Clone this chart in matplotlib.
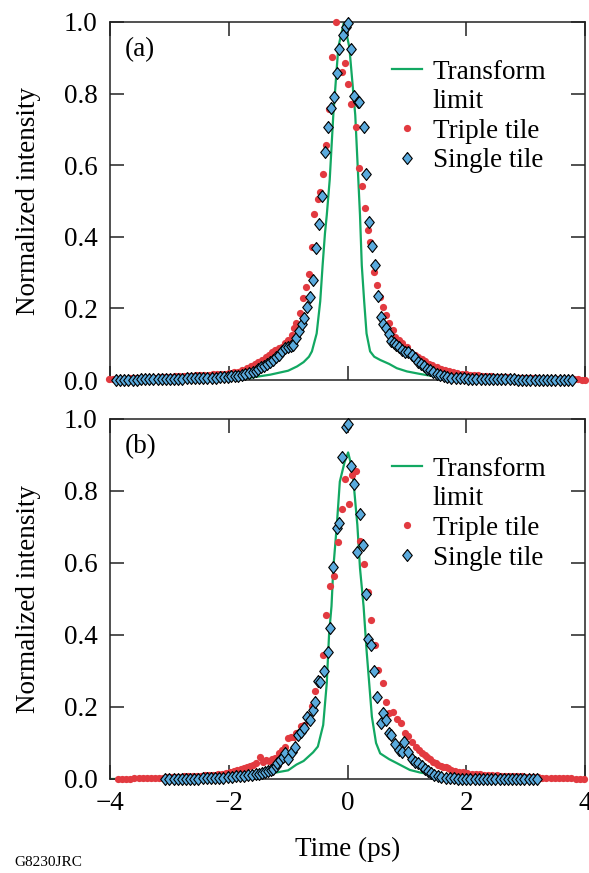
"""Pulse intensity profiles: transform limit vs triple/single tile compression."""

import matplotlib

matplotlib.use("Agg")
import matplotlib.pyplot as plt
from matplotlib.lines import Line2D

# ---- panel (a) ----
a_limit_t = [-4.0, -2.0, -1.65, -1.3, -1.0, -0.85, -0.74, -0.65, -0.6, -0.52, -0.46,
             -0.42, -0.38, -0.35, -0.3, -0.24, -0.155, -0.06, 0.03, 0.13, 0.21, 0.24,
             0.28, 0.32, 0.38, 0.45, 0.55, 0.7, 0.83, 1.0, 1.22, 1.5, 1.8, 2.2, 4.0]
a_limit_v = [0.0, 0.0, 0.006, 0.015, 0.026, 0.038, 0.05, 0.065, 0.08, 0.13, 0.22,
             0.32, 0.41, 0.46, 0.56, 0.74, 0.93, 1.0, 0.93, 0.74, 0.46, 0.32,
             0.22, 0.13, 0.08, 0.065, 0.056, 0.045, 0.033, 0.024, 0.017, 0.009, 0.004, 0.0, 0.0]

a_triple_t = [-4.02, -3.95, -3.88, -3.81, -3.74, -3.67, -3.60, -3.53, -3.46, -3.39, -3.32,
              -3.25, -3.18, -3.11, -3.04, -2.97, -2.90, -2.83, -2.76, -2.69, -2.62, -2.55,
              -2.48, -2.41, -2.34, -2.27, -2.20, -2.13, -2.06, -1.99, -1.92, -1.85, -1.78,
              -1.70, -1.63, -1.56, -1.50, -1.44, -1.38, -1.33, -1.28, -1.22, -1.16, -1.11,
              -1.05, -1.00, -0.94, -0.90, -0.86, -0.80, -0.75, -0.70, -0.65, -0.60, -0.56,
              -0.50, -0.46, -0.41, -0.36, -0.31, -0.26, -0.20, -0.10, -0.05, 0.00, 0.05,
              0.15, 0.20, 0.25, 0.29, 0.35, 0.38, 0.45, 0.49, 0.55, 0.60, 0.65, 0.70, 0.76,
              0.80, 0.86, 0.91, 1.00, 1.05, 1.14, 1.19, 1.25, 1.31, 1.37, 1.43, 1.50, 1.57,
              1.64, 1.71, 1.78, 1.85, 1.92, 1.99, 2.06, 2.13, 2.20, 2.27, 2.34, 2.41, 2.48,
              2.55, 2.62, 2.69, 2.76, 2.83, 2.90, 2.97, 3.04, 3.11, 3.18, 3.25, 3.32, 3.39,
              3.46, 3.53, 3.60, 3.67, 3.74, 3.81, 3.88, 3.95, 4.00]
a_triple_v = [0.003, 0.003, 0.004, 0.004, 0.004, 0.005, 0.005, 0.005, 0.006, 0.006, 0.007,
              0.007, 0.008, 0.008, 0.009, 0.009, 0.010, 0.010, 0.011, 0.012, 0.012, 0.013,
              0.014, 0.014, 0.015, 0.016, 0.017, 0.018, 0.018, 0.019, 0.021, 0.023, 0.027,
              0.033, 0.038, 0.044, 0.049, 0.055, 0.063, 0.070, 0.079, 0.084, 0.089, 0.093,
              0.103, 0.112, 0.126, 0.144, 0.160, 0.186, 0.230, 0.261, 0.296, 0.372, 0.464,
              0.505, 0.526, 0.575, 0.656, 0.756, 0.901, 0.999, 0.859, 0.885, 0.828, 0.770,
              0.708, 0.591, 0.543, 0.480, 0.419, 0.386, 0.303, 0.265, 0.232, 0.205, 0.182,
              0.158, 0.140, 0.121, 0.112, 0.103, 0.093, 0.079, 0.070, 0.065, 0.058, 0.052,
              0.046, 0.041, 0.036, 0.031, 0.027, 0.024, 0.021, 0.019, 0.017, 0.016, 0.015,
              0.014, 0.013, 0.012, 0.011, 0.010, 0.009, 0.009, 0.008, 0.008, 0.007, 0.007,
              0.006, 0.006, 0.005, 0.005, 0.005, 0.004, 0.004, 0.004, 0.003, 0.003, 0.003,
              0.003, 0.002, 0.002, 0.002, 0.001, 0.001]

a_single_t = [-3.90, -3.83, -3.76, -3.69, -3.62, -3.55, -3.48, -3.41, -3.34, -3.27, -3.20,
              -3.13, -3.06, -2.99, -2.92, -2.85, -2.78, -2.71, -2.64, -2.57, -2.50, -2.43,
              -2.36, -2.29, -2.22, -2.15, -2.08, -2.02, -1.96, -1.90, -1.84, -1.78, -1.72,
              -1.66, -1.60, -1.55, -1.50, -1.45, -1.40, -1.35, -1.30, -1.25, -1.20, -1.15,
              -1.10, -1.05, -1.00, -0.96, -0.92, -0.87, -0.82, -0.77, -0.73, -0.68, -0.63,
              -0.58, -0.53, -0.48, -0.43, -0.38, -0.33, -0.28, -0.23, -0.18, -0.14, -0.08,
              -0.03, 0.01, 0.06, 0.11, 0.17, 0.20, 0.27, 0.31, 0.36, 0.41, 0.46, 0.51, 0.56,
              0.60, 0.65, 0.69, 0.74, 0.78, 0.82, 0.86, 0.91, 0.97, 1.02, 1.08, 1.14, 1.19,
              1.24, 1.29, 1.34, 1.39, 1.44, 1.50, 1.56, 1.62, 1.68, 1.75, 1.82, 1.89, 1.96,
              2.03, 2.10, 2.17, 2.24, 2.31, 2.38, 2.45, 2.52, 2.59, 2.66, 2.73, 2.80, 2.87,
              2.94, 3.01, 3.08, 3.15, 3.22, 3.29, 3.36, 3.43, 3.50, 3.57, 3.64, 3.71, 3.78]
a_single_v = [0.000, 0.000, 0.001, 0.001, 0.001, 0.001, 0.002, 0.002, 0.002, 0.002, 0.003,
              0.003, 0.003, 0.003, 0.004, 0.004, 0.004, 0.005, 0.005, 0.005, 0.006, 0.006,
              0.006, 0.007, 0.007, 0.008, 0.008, 0.009, 0.010, 0.011, 0.012, 0.014, 0.016,
              0.019, 0.022, 0.026, 0.030, 0.035, 0.039, 0.044, 0.049, 0.056, 0.063, 0.070,
              0.080, 0.089, 0.093, 0.096, 0.098, 0.116, 0.138, 0.156, 0.172, 0.203, 0.231,
              0.279, 0.368, 0.436, 0.514, 0.636, 0.708, 0.761, 0.791, 0.857, 0.924, 0.964,
              0.987, 0.996, 0.924, 0.793, 0.776, 0.776, 0.706, 0.576, 0.442, 0.375, 0.321,
              0.235, 0.177, 0.156, 0.146, 0.128, 0.110, 0.102, 0.097, 0.093, 0.084, 0.079,
              0.079, 0.070, 0.061, 0.051, 0.044, 0.038, 0.032, 0.027, 0.022, 0.018, 0.014,
              0.011, 0.009, 0.007, 0.006, 0.005, 0.005, 0.004, 0.004, 0.004, 0.003, 0.003,
              0.003, 0.003, 0.002, 0.002, 0.002, 0.002, 0.002, 0.001, 0.001, 0.001, 0.001,
              0.001, 0.001, 0.000, 0.000, 0.000, 0.000, 0.000, 0.000, 0.000, 0.000]

# ---- panel (b) ----
b_limit_t = [-4.0, -2.0, -1.6, -1.2, -1.0, -0.86, -0.74, -0.58, -0.5, -0.41, -0.35, -0.31,
             -0.27, -0.24, -0.18, -0.13, -0.05, 0.01, 0.05, 0.10, 0.165, 0.21, 0.27, 0.32,
             0.41, 0.48, 0.55, 0.7, 0.83, 1.05, 1.22, 1.5, 1.8, 2.2, 4.0]
b_limit_v = [0.0, 0.0, 0.004, 0.018, 0.024, 0.04, 0.05, 0.074, 0.09, 0.15, 0.266, 0.405,
             0.48, 0.585, 0.706, 0.826, 0.88, 0.907, 0.88, 0.826, 0.706, 0.585, 0.48, 0.358,
             0.173, 0.1, 0.071, 0.055, 0.044, 0.025, 0.018, 0.01, 0.004, 0.0, 0.0]

b_triple_t = [-3.87, -3.80, -3.73, -3.66, -3.59, -3.52, -3.45, -3.38, -3.31, -3.24, -3.17,
              -3.10, -3.03, -2.96, -2.89, -2.82, -2.75, -2.68, -2.61, -2.54, -2.47, -2.40,
              -2.33, -2.26, -2.19, -2.12, -2.05, -1.98, -1.92, -1.86, -1.80, -1.75, -1.69,
              -1.64, -1.59, -1.54, -1.48, -1.43, -1.37, -1.32, -1.28, -1.22, -1.16, -1.10,
              -1.05, -1.00, -0.96, -0.90, -0.86, -0.79, -0.74, -0.66, -0.60, -0.55, -0.42,
              -0.36, -0.29, -0.23, -0.16, -0.10, -0.04, 0.03, 0.08, 0.15, 0.21, 0.28, 0.34,
              0.40, 0.46, 0.52, 0.59, 0.65, 0.70, 0.77, 0.83, 0.90, 0.96, 1.01, 1.08, 1.15,
              1.20, 1.25, 1.30, 1.34, 1.39, 1.44, 1.49, 1.53, 1.57, 1.61, 1.66, 1.70, 1.75,
              1.81, 1.88, 1.95, 2.02, 2.09, 2.16, 2.23, 2.30, 2.37, 2.44, 2.51, 2.58, 2.65,
              2.72, 2.79, 2.86, 2.93, 3.00, 3.07, 3.14, 3.21, 3.28, 3.35, 3.42, 3.49, 3.56,
              3.63, 3.70, 3.77, 3.84, 3.91, 3.98]
b_triple_v = [0.000, 0.001, 0.001, 0.001, 0.002, 0.002, 0.002, 0.003, 0.003, 0.003, 0.004,
              0.004, 0.005, 0.005, 0.006, 0.006, 0.007, 0.007, 0.008, 0.008, 0.009, 0.010,
              0.011, 0.012, 0.014, 0.015, 0.017, 0.019, 0.021, 0.024, 0.027, 0.031, 0.033,
              0.036, 0.040, 0.044, 0.062, 0.048, 0.052, 0.050, 0.055, 0.057, 0.071, 0.080,
              0.090, 0.113, 0.116, 0.117, 0.127, 0.147, 0.150, 0.173, 0.203, 0.245, 0.344,
              0.456, 0.537, 0.565, 0.657, 0.751, 0.833, 0.763, 0.843, 0.856, 0.661, 0.598,
              0.518, 0.442, 0.372, 0.303, 0.266, 0.215, 0.182, 0.185, 0.166, 0.156, 0.127,
              0.119, 0.104, 0.090, 0.080, 0.072, 0.067, 0.062, 0.055, 0.048, 0.043, 0.039,
              0.036, 0.034, 0.032, 0.030, 0.026, 0.023, 0.020, 0.018, 0.016, 0.015, 0.014,
              0.013, 0.012, 0.011, 0.011, 0.010, 0.009, 0.009, 0.008, 0.008, 0.007, 0.007,
              0.006, 0.006, 0.005, 0.005, 0.004, 0.004, 0.003, 0.003, 0.003, 0.002, 0.002,
              0.002, 0.001, 0.001, 0.000]

b_single_t = [-3.07, -3.00, -2.93, -2.86, -2.79, -2.72, -2.65, -2.58, -2.51, -2.44, -2.37,
              -2.30, -2.23, -2.16, -2.09, -2.02, -1.95, -1.88, -1.81, -1.74, -1.67, -1.61,
              -1.55, -1.49, -1.44, -1.39, -1.34, -1.29, -1.25, -1.21, -1.18, -1.14, -1.09,
              -1.05, -1.00, -0.94, -0.88, -0.83, -0.78, -0.74, -0.69, -0.64, -0.59, -0.54,
              -0.49, -0.46, -0.39, -0.33, -0.29, -0.24, -0.18, -0.14, -0.09, -0.03, 0.01,
              0.06, 0.11, 0.16, 0.21, 0.26, 0.31, 0.35, 0.40, 0.45, 0.50, 0.56, 0.60, 0.65,
              0.70, 0.74, 0.80, 0.86, 0.91, 0.95, 1.02, 1.08, 1.14, 1.19, 1.25, 1.30, 1.35,
              1.40, 1.46, 1.52, 1.58, 1.65, 1.72, 1.79, 1.86, 1.93, 2.00, 2.07, 2.14, 2.21,
              2.28, 2.35, 2.42, 2.49, 2.56, 2.63, 2.70, 2.77, 2.84, 2.91, 2.98, 3.05, 3.12,
              3.19]
b_single_v = [0.000, 0.000, 0.000, 0.000, 0.000, 0.001, 0.001, 0.001, 0.001, 0.002, 0.002,
              0.003, 0.003, 0.004, 0.004, 0.005, 0.006, 0.007, 0.008, 0.009, 0.010, 0.011,
              0.013, 0.015, 0.017, 0.019, 0.021, 0.024, 0.028, 0.037, 0.044, 0.053, 0.062,
              0.071, 0.055, 0.076, 0.090, 0.122, 0.131, 0.141, 0.171, 0.164, 0.192, 0.215,
              0.272, 0.268, 0.300, 0.354, 0.419, 0.590, 0.698, 0.710, 0.894, 0.979, 0.985,
              0.870, 0.819, 0.631, 0.736, 0.650, 0.514, 0.388, 0.372, 0.301, 0.227, 0.156,
              0.184, 0.164, 0.129, 0.122, 0.097, 0.081, 0.076, 0.104, 0.076, 0.055, 0.048,
              0.044, 0.036, 0.029, 0.022, 0.017, 0.012, 0.009, 0.006, 0.004, 0.003, 0.002,
              0.001, 0.001, 0.000, 0.000, 0.000, 0.000, 0.000, 0.000, 0.000, 0.000, 0.000,
              0.000, 0.000, 0.000, 0.000, 0.000, 0.000, 0.000, 0.000, 0.000]

y_ticks = [0.0, 0.2, 0.4, 0.6, 0.8, 1.0]
x_ticks = [-4, -2, 0, 2, 4]
legend_labels = ["Transform", "limit", "Triple tile", "Single tile"]

GREEN = "#12a862"
RED = "#e23a40"
BLUE = "#5aaadd"
DIAMOND = [(0, 1), (0.8, 0), (0, -1), (-0.8, 0), (0, 1)]
FS = 19.5

plt.rcParams["font.family"] = ["Liberation Serif", "DejaVu Serif"]
plt.rcParams["axes.linewidth"] = 1.1


def _draw_panel(ax, limit, triple, single, tag, show_xlabels):
    """Draw one intensity panel."""
    ax.plot(limit[0], limit[1], color=GREEN, lw=1.6, zorder=2)
    ax.plot(triple[0], triple[1], ls="none", marker="o", ms=5.2, mfc=RED, mec=RED,
            mew=0, zorder=3, clip_on=False)
    ax.plot(single[0], single[1], ls="none", marker=DIAMOND, ms=8.6, mfc=BLUE, mec="black",
            mew=0.8, zorder=4, clip_on=False)

    ax.set_xlim(-4, 4)
    ax.set_ylim(0, 1.0)
    ax.set_xticks(x_ticks)
    ax.set_yticks(y_ticks)
    ax.set_yticklabels([f"{v:.1f}" for v in y_ticks])
    if show_xlabels:
        ax.set_xticklabels([f"{v}".replace("-", "\u2212") for v in x_ticks])
    else:
        ax.set_xticklabels([])
    ax.tick_params(direction="in", length=10, width=1.1, top=True, right=True,
                   labelsize=FS, pad=9, colors="#222222", labelcolor="black")
    for spine in ax.spines.values():
        spine.set_color("#222222")

    ax.set_ylabel("Normalized intensity", fontsize=FS)
    ax.yaxis.set_label_coords(-0.145, 0.5)
    ax.text(0.032, 0.922, tag, transform=ax.transAxes, fontsize=FS, va="center", ha="left")

    handles = [
        Line2D([], [], color=GREEN, lw=1.6),
        Line2D([], [], ls="none"),
        Line2D([], [], ls="none", marker="o", ms=5.2, mfc=RED, mec=RED, mew=0),
        Line2D([], [], ls="none", marker=DIAMOND, ms=8.6, mfc=BLUE, mec="black", mew=0.8),
    ]
    ax.legend(handles, legend_labels, loc="upper left", bbox_to_anchor=(0.594, 0.895),
              frameon=False, fontsize=FS, handlelength=1.1, handletextpad=0.4,
              labelspacing=0.17, borderpad=0, borderaxespad=0)


fig = plt.figure(figsize=(5.89, 8.73), dpi=100)
ax_a = fig.add_axes([0.1868, 0.5647, 0.8065, 0.4101])
ax_b = fig.add_axes([0.1868, 0.1077, 0.8065, 0.4124])

_draw_panel(ax_a, (a_limit_t, a_limit_v), (a_triple_t, a_triple_v),
            (a_single_t, a_single_v), "(a)", False)
_draw_panel(ax_b, (b_limit_t, b_limit_v), (b_triple_t, b_triple_v),
            (b_single_t, b_single_v), "(b)", True)

ax_b.set_xlabel("Time (ps)", fontsize=FS)
ax_b.xaxis.set_label_coords(0.5, -0.16)
fig.text(0.025, 0.0115, "G8230JRC", fontsize=11, va="center", ha="left")

fig.savefig("out.png", dpi=100)
